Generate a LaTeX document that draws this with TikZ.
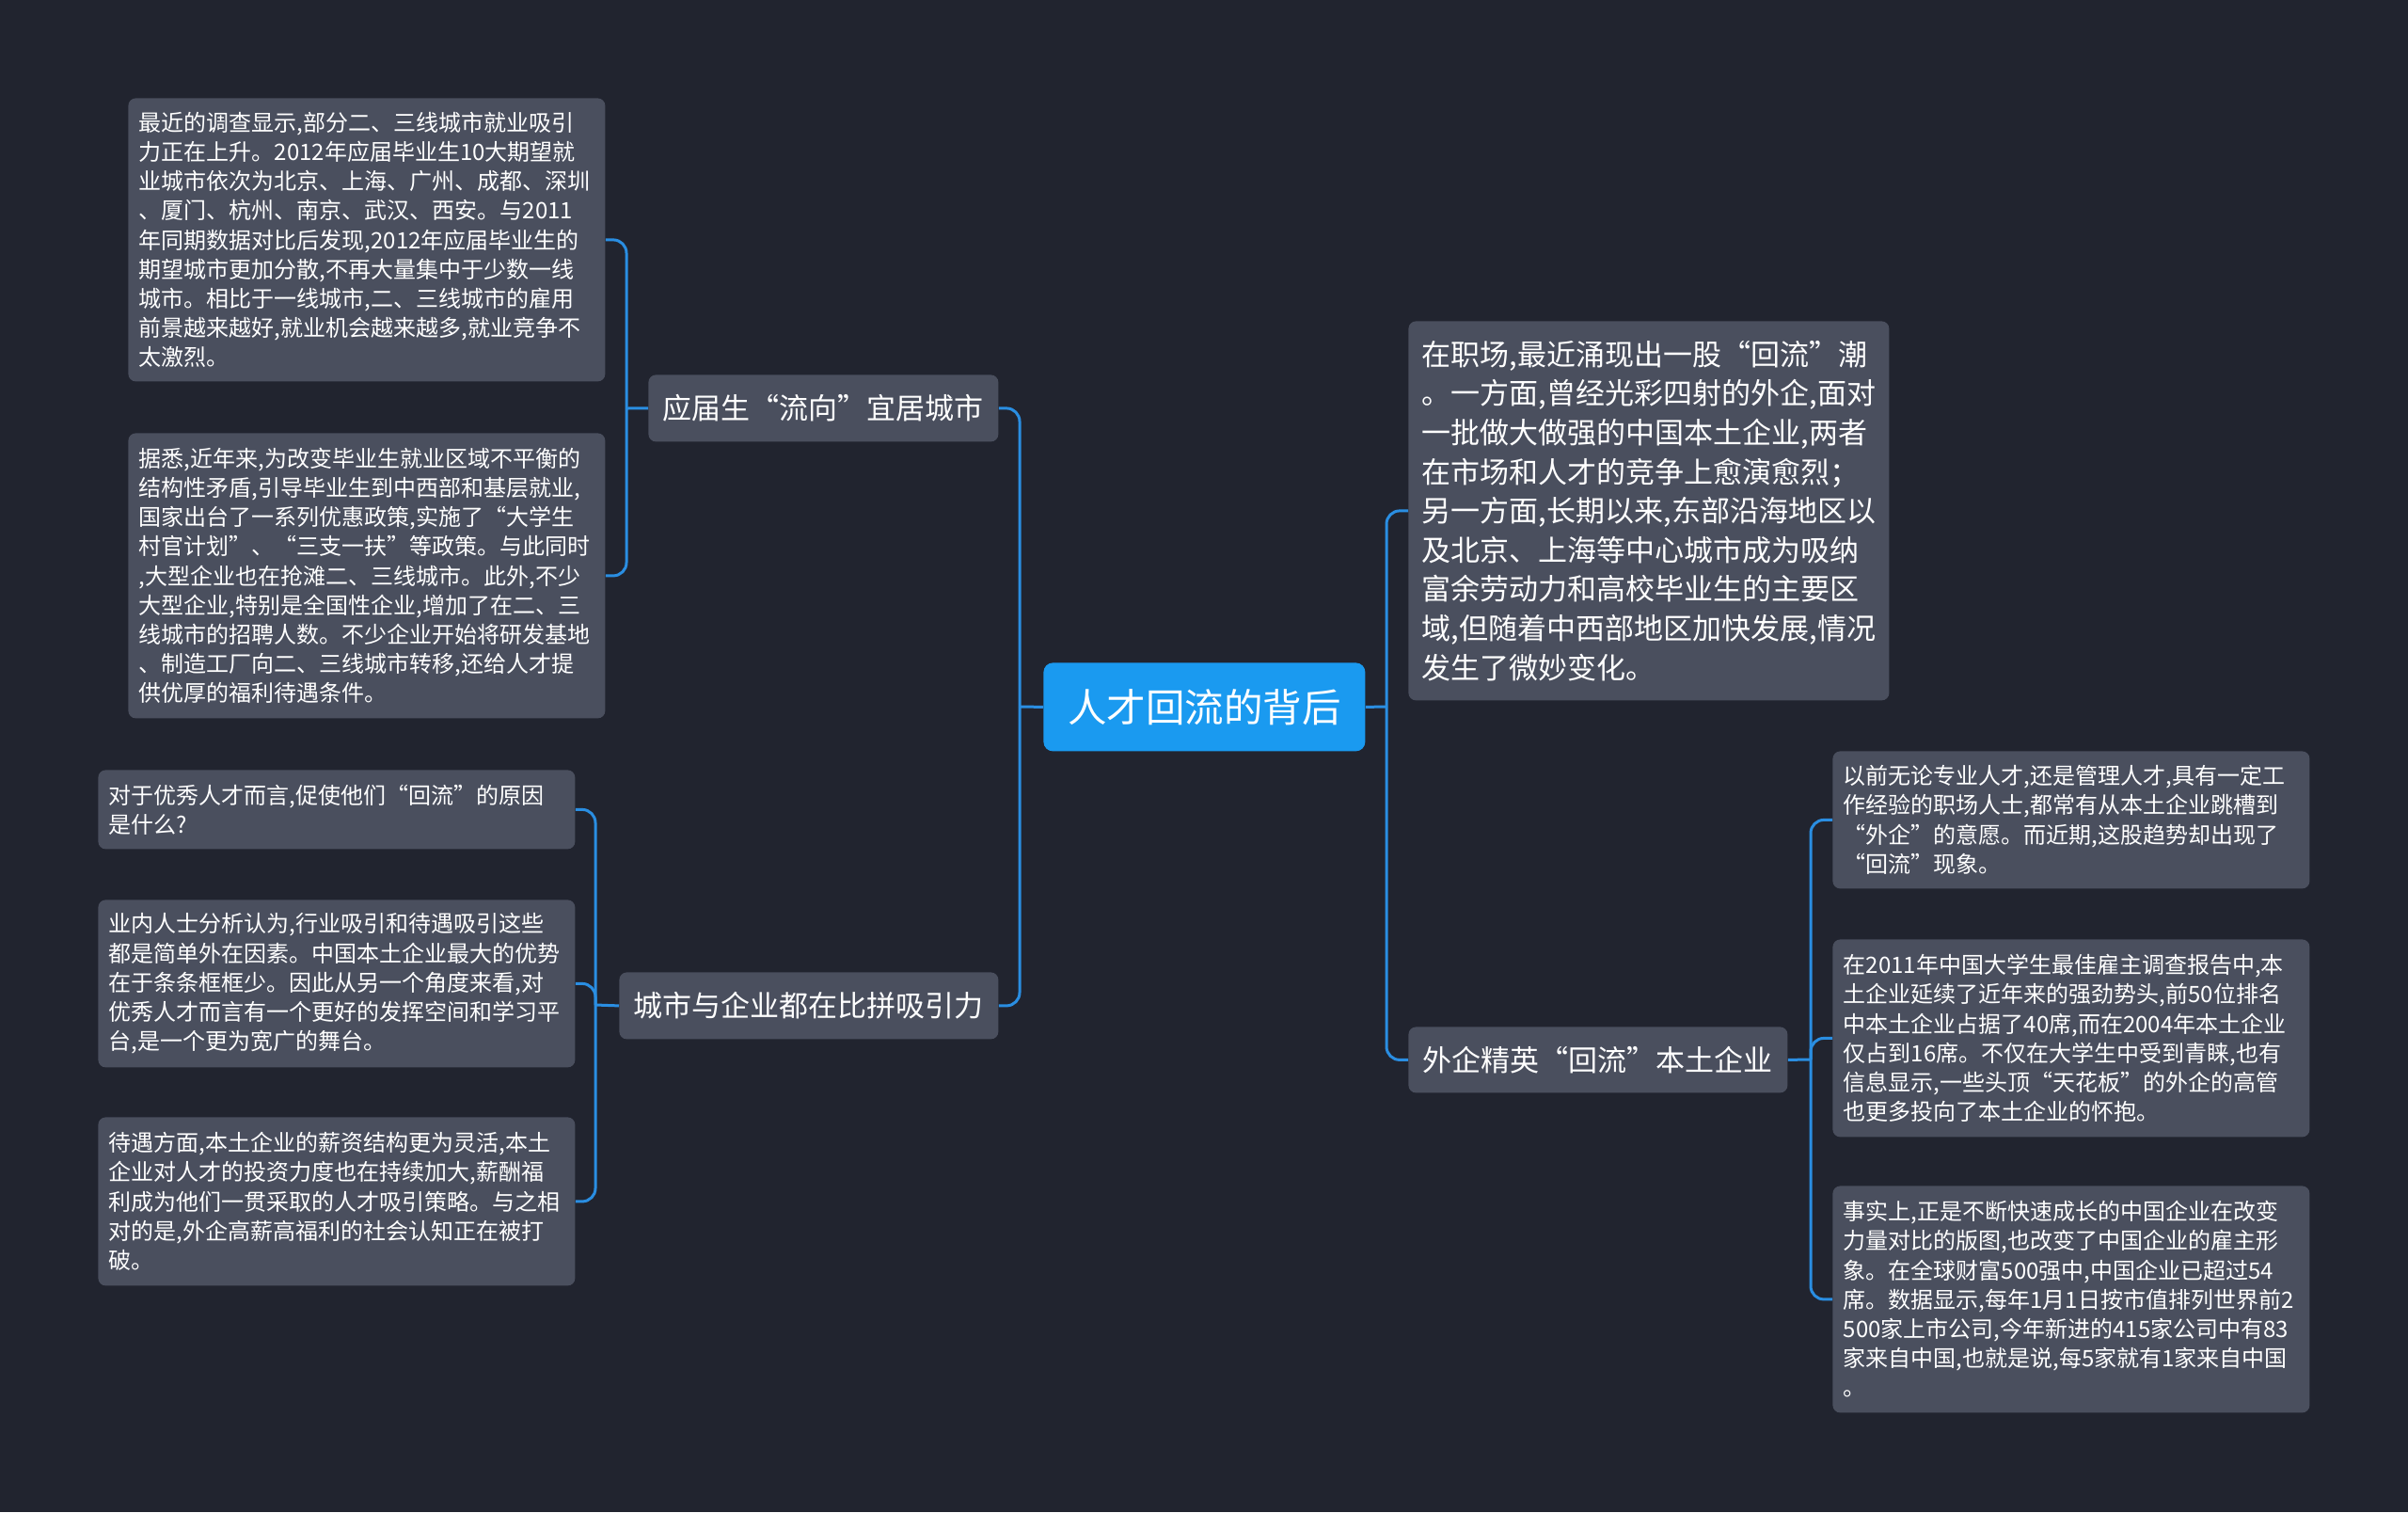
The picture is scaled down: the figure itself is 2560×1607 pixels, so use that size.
\documentclass[tikz,border=0pt]{standalone}
\usepackage{fontspec}
\setmainfont{Noto Sans CJK SC}
\definecolor{bgc}{HTML}{21242F}
\definecolor{nodec}{HTML}{4A4F5E}
\definecolor{rootc}{HTML}{1A9AF0}
\definecolor{linec}{HTML}{2A8EE2}
\begin{document}
\begin{tikzpicture}[x=0.5pt,y=-0.5pt,
  box/.style={fill=nodec, rounded corners=4pt, inner sep=0pt, text=white, anchor=north west, align=left},
  leaf/.style={box, inner xsep=5.75pt, text width=242pt, font=\fontsize{12}{15.6}\selectfont},
  mid/.style={box, align=center, font=\fontsize{15.5}{20.8}\selectfont},
  bigtext/.style={box, font=\fontsize{15.5}{20.8}\selectfont},
  rootnode/.style={fill=rootc, rounded corners=5pt, inner sep=0pt, text=white, anchor=north west, align=center, font=\fontsize{20.75}{25}\selectfont},
  conn/.style={draw=linec, line width=1.5pt, rounded corners=7pt}]
\fill[bgc] (0,0) rectangle (2560,1607);
\useasboundingbox (0,0) rectangle (2560,1607);

% root
\node[rootnode, minimum width=171pt, minimum height=47pt] (root) at (1109,704) {人才回流的背后};

% level 1
\node[mid, minimum width=186pt, minimum height=35.5pt] (a1) at (689,398) {应届生“流向”宜居城市};
\node[mid, minimum width=201.5pt, minimum height=35.5pt] (a2) at (658,1033) {城市与企业都在比拼吸引力};
\node[bigtext, minimum width=255.5pt, minimum height=201.5pt] (b1) at (1497,341) {在职场,最近涌现出一股“回流”潮\\。一方面,曾经光彩四射的外企,面对\\一批做大做强的中国本土企业,两者\\在市场和人才的竞争上愈演愈烈；\\另一方面,长期以来,东部沿海地区以\\及北京、上海等中心城市成为吸纳\\富余劳动力和高校毕业生的主要区\\域,但随着中西部地区加快发展,情况\\发生了微妙变化。};
\node[mid, minimum width=201.5pt, minimum height=35pt] (b2) at (1497,1091) {外企精英“回流”本土企业};

% left leaves
\node[leaf, minimum width=253pt, minimum height=150.5pt] (l1) at (136,104) {最近的调查显示,部分二、三线城市就业吸引\\力正在上升。2012年应届毕业生10大期望就\\业城市依次为北京、上海、广州、成都、深圳\\、厦门、杭州、南京、武汉、西安。与2011\\年同期数据对比后发现,2012年应届毕业生的\\期望城市更加分散,不再大量集中于少数一线\\城市。相比于一线城市,二、三线城市的雇用\\前景越来越好,就业机会越来越多,就业竞争不\\太激烈。};
\node[leaf, minimum width=253pt, minimum height=151.5pt] (l2) at (136,460) {据悉,近年来,为改变毕业生就业区域不平衡的\\结构性矛盾,引导毕业生到中西部和基层就业,\\国家出台了一系列优惠政策,实施了“大学生\\村官计划”、“三支一扶”等政策。与此同时\\,大型企业也在抢滩二、三线城市。此外,不少\\大型企业,特别是全国性企业,增加了在二、三\\线城市的招聘人数。不少企业开始将研发基地\\、制造工厂向二、三线城市转移,还给人才提\\供优厚的福利待遇条件。};
\node[leaf, minimum width=253.5pt, minimum height=42pt] (l3) at (104,818) {对于优秀人才而言,促使他们“回流”的原因\\是什么?};
\node[leaf, minimum width=253.5pt, minimum height=89pt] (l4) at (104,956) {业内人士分析认为,行业吸引和待遇吸引这些\\都是简单外在因素。中国本土企业最大的优势\\在于条条框框少。因此从另一个角度来看,对\\优秀人才而言有一个更好的发挥空间和学习平\\台,是一个更为宽广的舞台。};
\node[leaf, minimum width=253.5pt, minimum height=89.5pt] (l5) at (104,1187) {待遇方面,本土企业的薪资结构更为灵活,本土\\企业对人才的投资力度也在持续加大,薪酬福\\利成为他们一贯采取的人才吸引策略。与之相\\对的是,外企高薪高福利的社会认知正在被打\\破。};

% right leaves
\node[leaf, minimum width=253.5pt, minimum height=73pt] (r1) at (1948,798) {以前无论专业人才,还是管理人才,具有一定工\\作经验的职场人士,都常有从本土企业跳槽到\\“外企”的意愿。而近期,这股趋势却出现了\\“回流”现象。};
\node[leaf, minimum width=253.5pt, minimum height=105pt] (r2) at (1948,998) {在2011年中国大学生最佳雇主调查报告中,本\\土企业延续了近年来的强劲势头,前50位排名\\中本土企业占据了40席,而在2004年本土企业\\仅占到16席。不仅在大学生中受到青睐,也有\\信息显示,一些头顶“天花板”的外企的高管\\也更多投向了本土企业的怀抱。};
\node[leaf, minimum width=253.5pt, minimum height=120.5pt] (r3) at (1948,1260) {事实上,正是不断快速成长的中国企业在改变\\力量对比的版图,也改变了中国企业的雇主形\\象。在全球财富500强中,中国企业已超过54\\席。数据显示,每年1月1日按市值排列世界前2\\500家上市公司,今年新进的415家公司中有83\\家来自中国,也就是说,每5家就有1家来自中国\\。};

% junctions
\coordinate (jL) at (1084,751);
\coordinate (jR) at (1474,751);
\coordinate (ja1) at (666,434);
\coordinate (ja2) at (633,1068);
\coordinate (jb2) at (1925,1126);

% connectors
\draw[conn] (root.west) -- (jL);
\draw[conn] (jL) |- (a1.east);
\draw[conn] (jL) |- (a2.east);
\draw[conn] (root.east) -- (jR);
\draw[conn] (jR) |- (b1.west);
\draw[conn] (jR) |- (b2.west);

\draw[conn] (a1.west) -- (ja1);
\draw[conn] (ja1) |- (l1.east);
\draw[conn] (ja1) |- (l2.east);

\draw[conn] (a2.west) -- (ja2);
\draw[conn] (ja2) |- (l3.east);
\draw[conn] (ja2) |- (l4.east);
\draw[conn] (ja2) |- (l5.east);

\draw[conn] (b2.east) -- (jb2);
\draw[conn] (jb2) |- (r1.west);
\draw[conn] (jb2) |- (r2.west);
\draw[conn] (jb2) |- (r3.west);
\end{tikzpicture}
\end{document}
